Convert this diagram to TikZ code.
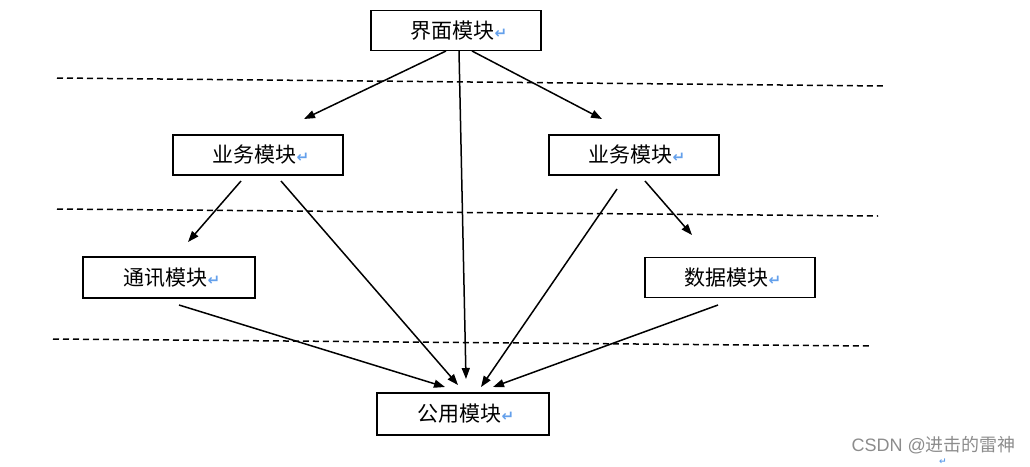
\documentclass[tikz,border=0pt]{standalone}
\usepackage{fontspec}
\setmainfont{Liberation Serif}
\newfontfamily\cjk{Noto Sans CJK SC}
\newfontfamily\dejavu{DejaVu Sans}
\usetikzlibrary{arrows.meta}
\definecolor{retblue}{RGB}{100,160,235}
\newcommand{\retmark}{{\dejavu\bfseries\fontsize{15pt}{15pt}\selectfont\color{retblue}\raisebox{0pt}{↵}}}
\tikzset{
  mod/.style={draw, line width=1.6pt, minimum width=170pt, minimum height=40pt, inner sep=0pt, font=\cjk\fontsize{21pt}{21pt}\selectfont},
  sep/.style={dashed, dash pattern=on 6pt off 4pt, line width=1.5pt},
  arr/.style={line width=1.5pt, -{Triangle[length=11pt,width=8pt]}}
}
\begin{document}
\begin{tikzpicture}[x=1pt,y=-1pt]
\useasboundingbox (0,0) rectangle (1030,466);
\node[mod] (ui) at (456,30.5) {\hspace{6pt}界面模块\retmark};
\node[mod] (bl) at (258,155) {\hspace{6pt}业务模块\retmark};
\node[mod] (br) at (634,155) {\hspace{6pt}业务模块\retmark};
\node[mod, minimum width=172pt, minimum height=41pt] (tx) at (169,277.5) {\hspace{6pt}通讯模块\retmark};
\node[mod] (sj) at (730,277.5) {\hspace{6pt}数据模块\retmark};
\node[mod, minimum width=172pt, minimum height=42pt] (gy) at (463,414) {\hspace{6pt}公用模块\retmark};
% dashed separators
\coordinate (d1a) at (57,78); \coordinate (d1b) at (884,86);
\coordinate (d2a) at (57,209); \coordinate (d2b) at (878,216);
\coordinate (d3a) at (53,339); \coordinate (d3b) at (870,346);
\draw[sep] (d1a) -- (d1b);
\draw[sep] (d2a) -- (d2b);
\draw[sep] (d3a) -- (d3b);
% arrow end points
\coordinate (u1) at (446,51); \coordinate (u2) at (459,51); \coordinate (u3) at (472,51);
\coordinate (blin) at (304,119); \coordinate (brin) at (602,119); \coordinate (gy1) at (466,379);
\coordinate (bl1) at (241,181); \coordinate (bl2) at (281,181);
\coordinate (txin) at (188,242); \coordinate (gy2) at (458,385);
\coordinate (br1) at (617,189); \coordinate (br2) at (645,181);
\coordinate (gy3) at (481,387); \coordinate (sjin) at (692,235);
\coordinate (tx1) at (179,305); \coordinate (gy4) at (445,387);
\coordinate (sj1) at (718,305); \coordinate (gy5) at (493,387);
\draw[arr] (u1) -- (blin);
\draw[arr] (u2) -- (gy1);
\draw[arr] (u3) -- (brin);
\draw[arr] (bl1) -- (txin);
\draw[arr] (bl2) -- (gy2);
\draw[arr] (br1) -- (gy3);
\draw[arr] (br2) -- (sjin);
\draw[arr] (tx1) -- (gy4);
\draw[arr] (sj1) -- (gy5);
% watermark
\node[font=\fontspec{Liberation Sans}\fontsize{18pt}{18pt}\selectfont, text=black!45, anchor=east, inner sep=0pt] (wm) at (1016,445) {CSDN @\cjk 进击的雷神};
\node[inner sep=0pt, font=\dejavu\bfseries\fontsize{9pt}{9pt}\selectfont, text=retblue] (cut) at (943,461.5) {↵};
\end{tikzpicture}
\end{document}
